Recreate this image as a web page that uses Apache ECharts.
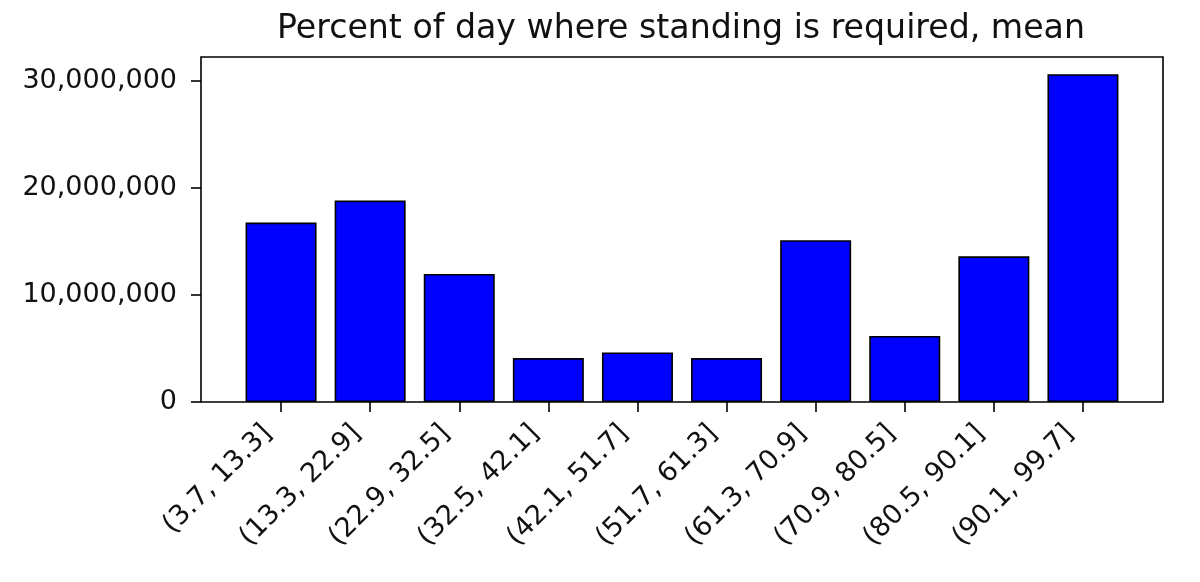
<!DOCTYPE html>
<html>
<head>
<meta charset="utf-8">
<script src="https://cdn.jsdelivr.net/npm/echarts@6/dist/echarts.min.js"></script>
<style>html,body{margin:0;padding:0;background:#fff}#c{width:1200px;height:582px}</style>
</head>
<body>
<div id="c"></div>
<script>
const titleText = 'Percent of day where standing is required, mean';
const categories = ['(3.7, 13.3]', '(13.3, 22.9]', '(22.9, 32.5]', '(32.5, 42.1]', '(42.1, 51.7]',
                    '(51.7, 61.3]', '(61.3, 70.9]', '(70.9, 80.5]', '(80.5, 90.1]', '(90.1, 99.7]'];
const values = [16750000, 18800000, 11950000, 4100000, 4630000, 4100000, 15100000, 6160000, 13600000, 30600000];
const yTicks = [0, 10000000, 20000000, 30000000];
const yMax = 32200000;

const FONT = 'DejaVu Sans';
const chart = echarts.init(document.getElementById('c'), null, {renderer: 'canvas'});
const fmt = v => Math.round(v).toString().replace(/\B(?=(\d{3})+(?!\d))/g, ',');

chart.setOption({
  animation: false,
  backgroundColor: '#fff',
  title: {
    text: titleText,
    left: 272, top: 8,
    textStyle: {fontFamily: FONT, fontSize: 33.2, fontWeight: 'normal', color: '#111'}
  },
  grid: [
    {left: 201, right: 37, top: 57, bottom: 180, show: true, borderColor: '#000', borderWidth: 1.6, backgroundColor: 'transparent'},
    {left: 236.5, right: 72.5, top: 57, bottom: 180}
  ],
  xAxis: [
    {gridIndex: 0, type: 'value', min: 0, max: 1, show: false},
    {gridIndex: 1, type: 'category', data: categories, boundaryGap: true,
     axisLine: {show: false},
     axisTick: {show: true, alignWithLabel: true, length: 10, lineStyle: {color: '#000', width: 1.6}},
     axisLabel: {rotate: 45, interval: 0, margin: 14, padding: [0, 19, 0, 0],
                 fontFamily: FONT, fontSize: 27, color: '#111'}}
  ],
  yAxis: [
    {gridIndex: 0, type: 'value', min: 0, max: yMax,
     splitLine: {show: false},
     axisLine: {show: false},
     axisTick: {show: true, length: 10, customValues: yTicks, lineStyle: {color: '#000', width: 1.6}},
     axisLabel: {customValues: yTicks, margin: 24, formatter: fmt, fontFamily: FONT, fontSize: 27, color: '#111'}},
    {gridIndex: 1, type: 'value', min: 0, max: yMax, show: false, splitLine: {show: false}}
  ],
  series: [{
    type: 'bar',
    xAxisIndex: 1, yAxisIndex: 1,
    data: values,
    barWidth: 71,
    itemStyle: {color: '#0000ff', borderColor: '#000', borderWidth: 1.6}
  }]
});
</script>
</body>
</html>
